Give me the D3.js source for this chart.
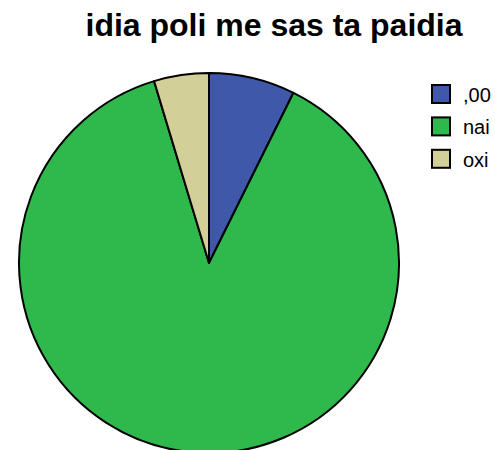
<!DOCTYPE html>
<html>
<head>
<meta charset="utf-8">
<script src="https://cdn.jsdelivr.net/npm/d3@7"></script>
<style>
  html, body { margin: 0; padding: 0; background: #fff; }
  svg { display: block; }
</style>
</head>
<body>
<svg id="chart" width="495" height="450"></svg>
<script>
// Answer categories and their counts
const categories = [",00", "nai", "oxi"];
const counts = [11, 132, 7];
const colors = ["#3f58aa", "#2fb84b", "#d3cf98"];
const title = "idia poli me sas ta paidia";

const svg = d3.select("#chart");
const cx = 209, cy = 263, r = 190;

svg.append("text")
  .attr("x", 274)
  .attr("y", 36)
  .attr("text-anchor", "middle")
  .attr("font-family", "Liberation Sans, Arial, sans-serif")
  .attr("font-weight", "bold")
  .attr("font-size", 32)
  .attr("fill", "#000")
  .text(title);

const pie = d3.pie().sort(null).value(d => d.value);
const arc = d3.arc().innerRadius(0).outerRadius(r);
const data = categories.map((c, i) => ({ label: c, value: counts[i] }));
const color = d3.scaleOrdinal().domain(categories).range(colors);

svg.append("g")
  .attr("transform", `translate(${cx},${cy})`)
  .selectAll("path")
  .data(pie(data))
  .join("path")
  .attr("d", arc)
  .attr("fill", d => color(d.data.label))
  .attr("stroke", "#000")
  .attr("stroke-width", 2)
  .attr("stroke-linejoin", "round");

const legend = svg.append("g").attr("transform", "translate(432,85)");
const rows = legend.selectAll("g")
  .data(categories)
  .join("g")
  .attr("transform", (d, i) => `translate(0,${i * 32.4})`);
rows.append("rect")
  .attr("width", 18).attr("height", 18)
  .attr("fill", d => color(d))
  .attr("stroke", "#000")
  .attr("stroke-width", 2);
rows.append("text")
  .attr("x", 31).attr("y", 17)
  .attr("font-family", "Liberation Sans, Arial, sans-serif")
  .attr("font-size", 20)
  .attr("fill", "#000")
  .text(d => d);
</script>
</body>
</html>
